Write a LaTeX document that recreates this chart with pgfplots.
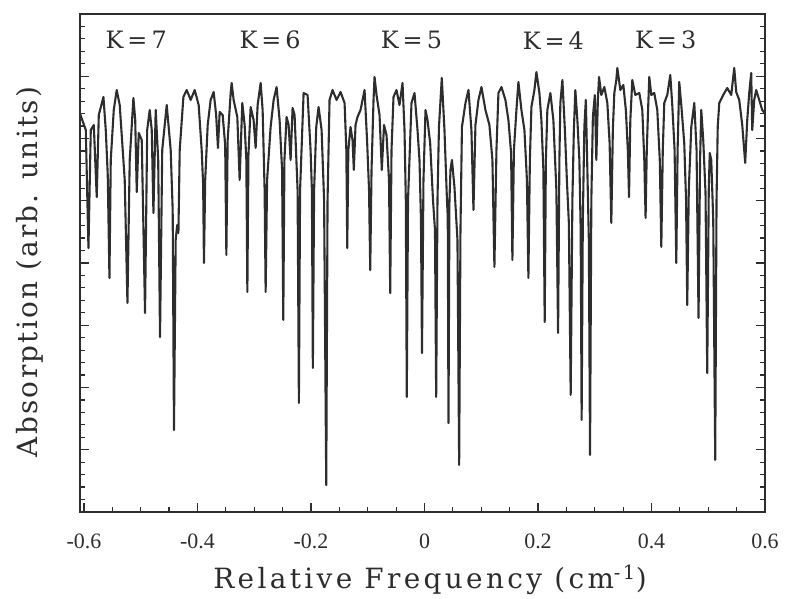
\documentclass[border=0pt]{standalone}
\usepackage{fontspec}
\setmainfont{Liberation Serif}
\newfontfamily\labfont{DejaVu Serif}
\newfontfamily\labfontwide[LetterSpace=12]{DejaVu Serif}
\newfontfamily\ylabfont[LetterSpace=8]{DejaVu Serif}
\usepackage{pgfplots}
\pgfplotsset{compat=1.18}
\definecolor{ink}{RGB}{45,45,45}

\begin{document}
\begin{tikzpicture}
\begin{axis}[
    name=ax, at={(0,0)}, anchor=south west,
    width=685bp, height=498bp, scale only axis,
    xmin=-0.607, xmax=0.600, ymin=0, ymax=8,
    xtick={-0.6,-0.4,-0.2,0,0.2,0.4,0.6},
    xticklabels={-0.6,-0.4,-0.2,0,0.2,0.4,0.6},
    minor x tick num=3,
    xtick pos=left,
    ytick={0,1,2,3,4,5,6,7,8}, yticklabels={},
    minor y tick num=4, ytick pos=both,
    tick align=inside,
    major tick length=9bp, minor tick length=5bp,
    every tick/.style={ink, line width=1.2bp},
    axis line style={ink, line width=1.6bp},
    xticklabel style={font=\fontsize{22}{25}\selectfont, anchor=base, yshift=-37bp, text=ink},
    xlabel={Relative Frequency (cm\textsuperscript{-1})},
    ylabel={Absorption (arb. units)},
    xlabel style={font=\labfontwide\fontsize{28}{32}\selectfont, at={(axis description cs:0.511,-0.153)}, anchor=base, inner sep=0pt, text=ink},
    ylabel style={font=\ylabfont\fontsize{28}{32}\selectfont, at={(axis description cs:-0.073,0.482)}, anchor=center, inner sep=0pt, text=ink},
]
\addplot[ink, line width=2.1bp, line join=round] coordinates {
(-0.607,6.40) (-0.5968,6.137) (-0.5921,4.241) (-0.5880,6.137) (-0.5827,6.217)
(-0.5775,5.060) (-0.5739,6.378) (-0.5657,6.667) (-0.5616,6.137) (-0.5581,5.414)
(-0.5551,3.759) (-0.5528,5.655) (-0.5475,6.458) (-0.5423,6.779) (-0.5370,6.538)
(-0.5282,5.333) (-0.5234,3.358) (-0.5194,5.655) (-0.5129,6.651) (-0.5097,6.297)
(-0.5070,5.141) (-0.5035,6.089) (-0.4982,5.976) (-0.4924,3.197) (-0.4886,6.137)
(-0.4842,6.458) (-0.4806,6.137) (-0.4776,4.803) (-0.4736,6.458) (-0.4692,5.655)
(-0.4660,2.811) (-0.4621,5.815) (-0.4542,6.538) (-0.4472,5.815) (-0.4437,4.852)
(-0.4414,1.317) (-0.4384,4.370) (-0.4357,4.611) (-0.4336,4.482) (-0.4313,5.815)
(-0.4248,6.667) (-0.4190,6.779) (-0.4120,6.619) (-0.4049,6.779) (-0.3979,6.538)
(-0.3926,5.815) (-0.3900,5.253) (-0.3886,4.000) (-0.3864,5.333) (-0.3820,6.217)
(-0.3768,6.619) (-0.3715,6.747) (-0.3671,6.378) (-0.3639,5.848) (-0.3609,6.426)
(-0.3556,6.378) (-0.3512,5.896) (-0.3491,4.129) (-0.3468,5.976) (-0.3415,6.731)
(-0.3398,6.892) (-0.3363,6.619) (-0.3298,6.346) (-0.3257,5.333) (-0.3210,6.570)
(-0.3169,6.217) (-0.3139,5.655) (-0.3121,3.534) (-0.3102,5.735) (-0.3063,6.506)
(-0.3011,6.297) (-0.2975,5.848) (-0.2940,6.538) (-0.2887,6.892) (-0.2852,6.458)
(-0.2817,5.173) (-0.2799,3.534) (-0.2773,5.333) (-0.2711,6.185) (-0.2658,6.619)
(-0.2606,6.827) (-0.2553,6.297) (-0.2509,5.494) (-0.2488,3.085) (-0.2468,5.655)
(-0.2430,6.346) (-0.2394,6.217) (-0.2359,5.655) (-0.2324,6.490) (-0.2289,6.378)
(-0.2236,5.173) (-0.2213,1.751) (-0.2192,5.173) (-0.2130,6.731) (-0.2060,6.699)
(-0.2007,5.815) (-0.1984,5.173) (-0.1967,2.313) (-0.1945,5.173) (-0.1907,6.185)
(-0.1866,6.506) (-0.1813,6.137) (-0.1769,5.012) (-0.1731,0.434) (-0.1708,5.012)
(-0.1673,6.619) (-0.1620,6.779) (-0.1549,6.619) (-0.1479,6.747) (-0.1408,6.570)
(-0.1377,5.815) (-0.1361,4.241) (-0.1342,5.815) (-0.1303,6.185) (-0.1268,5.976)
(-0.1245,5.494) (-0.1215,6.217) (-0.1180,6.346) (-0.1127,6.458) (-0.1056,6.779)
(-0.1012,5.976) (-0.0977,5.173) (-0.0956,3.888) (-0.0933,5.494) (-0.0898,6.619)
(-0.0880,6.988) (-0.0845,6.699) (-0.0792,6.378) (-0.0752,5.494) (-0.0713,6.217)
(-0.0669,6.056) (-0.0625,5.333) (-0.0604,3.518) (-0.0581,5.815) (-0.0546,6.667)
(-0.0493,6.779) (-0.0440,6.538) (-0.0387,6.892) (-0.0352,6.137) (-0.0329,5.012)
(-0.0312,1.848) (-0.0290,5.012) (-0.0229,6.570) (-0.0176,6.731) (-0.0123,6.137)
(-0.0088,5.655) (-0.0062,4.691) (-0.0044,2.554) (-0.0018,5.333) (0.0018,6.458)
(0.0053,6.297) (0.0100,5.928) (0.0150,5.012) (0.0185,4.530) (0.0206,1.848)
(0.0229,5.012) (0.0255,6.185) (0.0305,6.972) (0.0352,6.137) (0.0396,5.012)
(0.0410,4.739) (0.0423,1.430) (0.0440,5.012) (0.0458,5.494) (0.0484,5.655)
(0.0528,5.221) (0.0581,4.370) (0.0611,0.755) (0.0634,4.530) (0.0660,6.185)
(0.0722,6.570) (0.0775,6.779) (0.0827,6.137) (0.0863,4.852) (0.0898,6.217)
(0.0951,6.619) (0.1004,6.827) (0.1074,6.458) (0.1144,6.217) (0.1197,5.655)
(0.1232,3.936) (0.1268,5.815) (0.1303,6.731) (0.1356,6.827) (0.1426,6.619)
(0.1479,6.297) (0.1526,5.767) (0.1549,4.048) (0.1576,5.815) (0.1620,6.458)
(0.1655,6.908) (0.1708,6.458) (0.1761,6.137) (0.1805,5.333) (0.1831,3.759)
(0.1857,5.655) (0.1884,6.506) (0.1937,6.779) (0.1972,7.068) (0.2025,6.731)
(0.2060,6.297) (0.2095,5.494) (0.2118,3.052) (0.2139,5.655) (0.2165,6.458)
(0.2218,6.731) (0.2271,6.297) (0.2324,5.173) (0.2354,2.876) (0.2377,5.655)
(0.2394,6.570) (0.2430,6.940) (0.2474,6.137) (0.2509,5.333) (0.2544,4.643)
(0.2576,1.880) (0.2606,5.012) (0.2632,6.137) (0.2658,6.779) (0.2694,6.297)
(0.2729,5.655) (0.2752,4.530) (0.2769,1.478) (0.2790,4.691) (0.2817,6.185)
(0.2843,6.619) (0.2870,5.494) (0.2896,4.370) (0.2917,0.916) (0.2940,5.012)
(0.2967,6.346) (0.3002,6.699) (0.3028,5.655) (0.3055,6.619) (0.3076,6.988)
(0.3116,6.699) (0.3169,6.827) (0.3222,6.570) (0.3262,5.928) (0.3292,4.643)
(0.3319,6.137) (0.3345,6.731) (0.3380,6.940) (0.3398,7.133) (0.3451,6.779)
(0.3504,6.860) (0.3548,6.458) (0.3583,5.815) (0.3604,5.060) (0.3627,6.297)
(0.3662,6.940) (0.3715,6.699) (0.3785,6.731) (0.3838,6.458) (0.3873,5.655)
(0.3896,4.723) (0.3917,5.815) (0.3944,6.570) (0.3961,6.988) (0.3996,6.699)
(0.4049,6.731) (0.4102,6.458) (0.4146,5.655) (0.4173,4.257) (0.4199,5.815)
(0.4225,6.570) (0.4278,6.699) (0.4331,7.020) (0.4366,6.538) (0.4407,5.815)
(0.4437,4.000) (0.4460,5.815) (0.4489,6.908) (0.4525,6.538) (0.4577,5.928)
(0.4609,5.012) (0.4630,3.326) (0.4657,5.173) (0.4701,6.185) (0.4754,6.570)
(0.4794,5.815) (0.4829,3.117) (0.4856,5.655) (0.4877,6.458) (0.4912,5.976)
(0.4952,5.125) (0.4982,2.233) (0.5009,5.173) (0.5026,5.767) (0.5053,5.655)
(0.5088,4.691) (0.5123,0.836) (0.5146,5.012) (0.5167,6.185) (0.5194,6.570)
(0.5264,6.699) (0.5335,6.811) (0.5405,6.699) (0.5458,7.133) (0.5493,6.747)
(0.5546,6.619) (0.5599,6.217) (0.5651,5.607) (0.5687,6.297) (0.5722,6.731)
(0.5757,7.052) (0.5775,6.137) (0.5810,6.619) (0.5845,6.779) (0.5898,6.619)
(0.5951,6.458) (0.600,6.40)
};
\node[font=\labfont\fontsize{24}{28}\selectfont, text=ink] at (axis cs:-0.508,7.58) {K\,=\,7};
\node[font=\labfont\fontsize{24}{28}\selectfont, text=ink] at (axis cs:-0.272,7.58) {K\,=\,6};
\node[font=\labfont\fontsize{24}{28}\selectfont, text=ink] at (axis cs:-0.023,7.58) {K\,=\,5};
\node[font=\labfont\fontsize{24}{28}\selectfont, text=ink] at (axis cs:0.227,7.58) {K\,=\,4};
\node[font=\labfont\fontsize{24}{28}\selectfont, text=ink] at (axis cs:0.425,7.58) {K\,=\,3};
\end{axis}
\path ([shift={(-80bp,-87bp)}]ax.south west) rectangle ([shift={(24bp,14bp)}]ax.north east);
\end{tikzpicture}
\end{document}
